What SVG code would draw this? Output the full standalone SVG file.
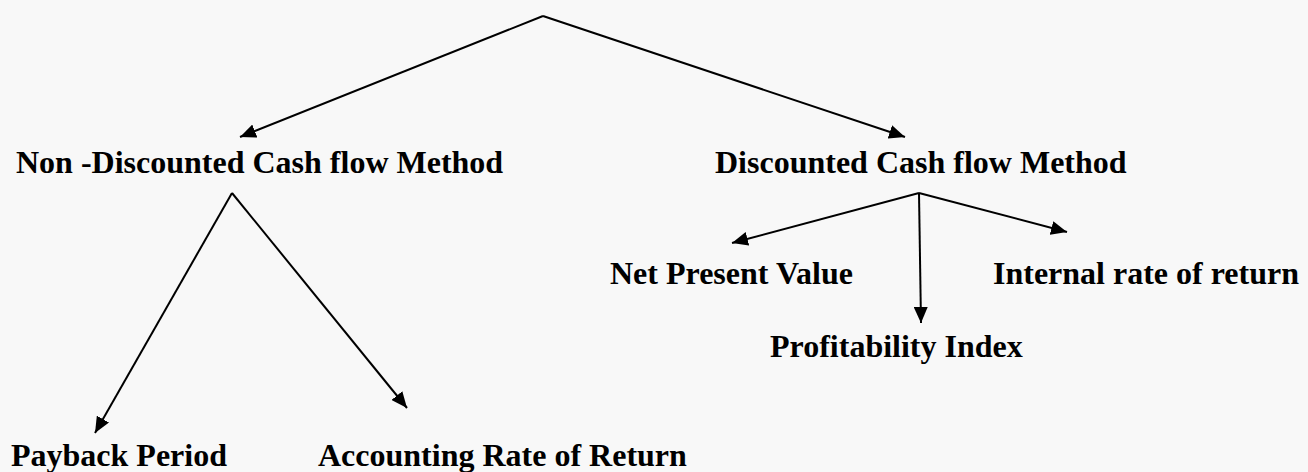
<svg xmlns="http://www.w3.org/2000/svg" width="1308" height="472" viewBox="0 0 1308 472">
  <style>
    .lbl { font-family: "Liberation Serif", "Times New Roman", serif; font-weight: bold; font-size: 32px; fill: #000; }
    .edge { stroke: #000; stroke-width: 2; fill: none; marker-end: url(#arrow); }
  </style>
  <defs>
    <marker id="arrow" markerUnits="userSpaceOnUse" markerWidth="18" markerHeight="14" refX="16" refY="7" orient="auto">
      <path d="M0,0 L16,7 L0,14 Z" fill="#000"/>
    </marker>
  </defs>
  <rect x="0" y="0" width="1308" height="472" fill="#f8f8f8"/>
  <g id="connectors">
    <line class="edge" x1="543" y1="16" x2="240" y2="137"/>
    <line class="edge" x1="543" y1="16" x2="905" y2="137"/>
    <line class="edge" x1="232" y1="193" x2="95" y2="433"/>
    <line class="edge" x1="232" y1="193" x2="407" y2="408"/>
    <line class="edge" x1="919" y1="193" x2="732" y2="243"/>
    <line class="edge" x1="919" y1="193" x2="921" y2="323"/>
    <line class="edge" x1="919" y1="193" x2="1067" y2="232"/>
  </g>
  <g id="node-non-discounted">
    <text class="lbl" x="16" y="173">Non -Discounted Cash flow Method</text>
  </g>
  <g id="node-discounted">
    <text class="lbl" x="715" y="173">Discounted Cash flow Method</text>
  </g>
  <g id="node-npv">
    <text class="lbl" x="610" y="284">Net Present Value</text>
  </g>
  <g id="node-irr">
    <text class="lbl" x="993" y="284">Internal rate of return</text>
  </g>
  <g id="node-pi">
    <text class="lbl" x="770" y="357">Profitability Index</text>
  </g>
  <g id="node-payback">
    <text class="lbl" x="11" y="466">Payback Period</text>
  </g>
  <g id="node-arr">
    <text class="lbl" x="318" y="466">Accounting Rate of Return</text>
  </g>
</svg>
